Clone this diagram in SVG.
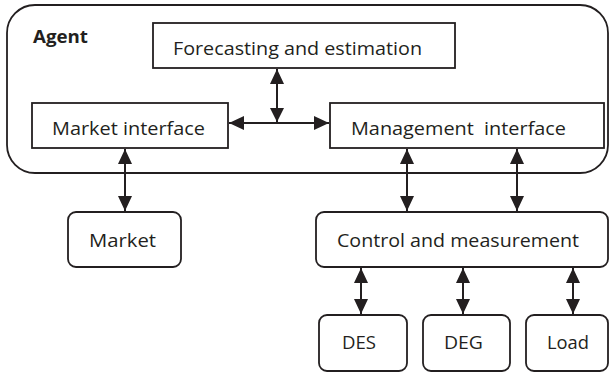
<svg xmlns="http://www.w3.org/2000/svg" width="609" height="376" viewBox="0 0 609 376">
  <defs>
    <style>
      .box { fill: #ffffff; stroke: #231f20; stroke-width: 1.8; }
      .agent { fill: none; stroke: #231f20; stroke-width: 1.8; }
      .lbl { font-family: "Open Sans", "Liberation Sans", sans-serif; font-size: 19px; fill: #231f20; white-space: pre; }
      .title { font-family: "Open Sans", "Liberation Sans", sans-serif; font-size: 18px; font-weight: bold; fill: #231f20; }
      .link { stroke: #231f20; stroke-width: 2; fill: none; marker-start: url(#head); marker-end: url(#head); }
    </style>
    <marker id="head" viewBox="0 0 15 14" refX="15" refY="7" markerWidth="15" markerHeight="14" markerUnits="userSpaceOnUse" orient="auto-start-reverse">
      <path d="M0,0 L15,7 L0,14 z" fill="#231f20"/>
    </marker>
  </defs>

  <g id="agent">
    <rect class="agent" x="7" y="5" width="601" height="168" rx="28" ry="28"/>
    <text class="title" x="33" y="43" textLength="55" lengthAdjust="spacingAndGlyphs">Agent</text>
  </g>

  <g id="forecasting">
    <rect class="box" x="153" y="23" width="302" height="45"/>
    <text class="lbl" x="173" y="55" textLength="249" lengthAdjust="spacingAndGlyphs">Forecasting and estimation</text>
  </g>

  <g id="market-interface">
    <rect class="box" x="32" y="103" width="196" height="45"/>
    <text class="lbl" x="52" y="135" textLength="153" lengthAdjust="spacingAndGlyphs">Market interface</text>
  </g>

  <g id="management-interface">
    <rect class="box" x="330" y="103" width="274" height="45"/>
    <text class="lbl" x="351" y="135" textLength="215" lengthAdjust="spacingAndGlyphs">Management  interface</text>
  </g>

  <g id="market">
    <rect class="box" x="68" y="212" width="113" height="55" rx="8" ry="8"/>
    <text class="lbl" x="89" y="247" textLength="67" lengthAdjust="spacingAndGlyphs">Market</text>
  </g>

  <g id="control">
    <rect class="box" x="316" y="212" width="292" height="55" rx="8" ry="8"/>
    <text class="lbl" x="337" y="247" textLength="242" lengthAdjust="spacingAndGlyphs">Control and measurement</text>
  </g>

  <g id="des">
    <rect class="box" x="319" y="315" width="88" height="56" rx="8" ry="8"/>
    <text class="lbl" x="342" y="349" textLength="34" lengthAdjust="spacingAndGlyphs">DES</text>
  </g>

  <g id="deg">
    <rect class="box" x="423" y="315" width="87" height="56" rx="8" ry="8"/>
    <text class="lbl" x="444" y="349" textLength="39" lengthAdjust="spacingAndGlyphs">DEG</text>
  </g>

  <g id="load">
    <rect class="box" x="526" y="315" width="82" height="56" rx="8" ry="8"/>
    <text class="lbl" x="547" y="349" textLength="42" lengthAdjust="spacingAndGlyphs">Load</text>
  </g>

  <g id="connectors">
    <line class="link" x1="229" y1="123" x2="329" y2="123"/>
    <line class="link" x1="277" y1="69" x2="277" y2="123" style="marker-end: none"/>
    <path d="M270,108 L277,122 L284,108 z" fill="#231f20"/>
    <line class="link" x1="125" y1="149" x2="125" y2="211"/>
    <line class="link" x1="407" y1="149" x2="407" y2="211"/>
    <line class="link" x1="517" y1="149" x2="517" y2="211"/>
    <line class="link" x1="361" y1="268" x2="361" y2="314"/>
    <line class="link" x1="463" y1="268" x2="463" y2="314"/>
    <line class="link" x1="573" y1="268" x2="573" y2="314"/>
  </g>
</svg>
